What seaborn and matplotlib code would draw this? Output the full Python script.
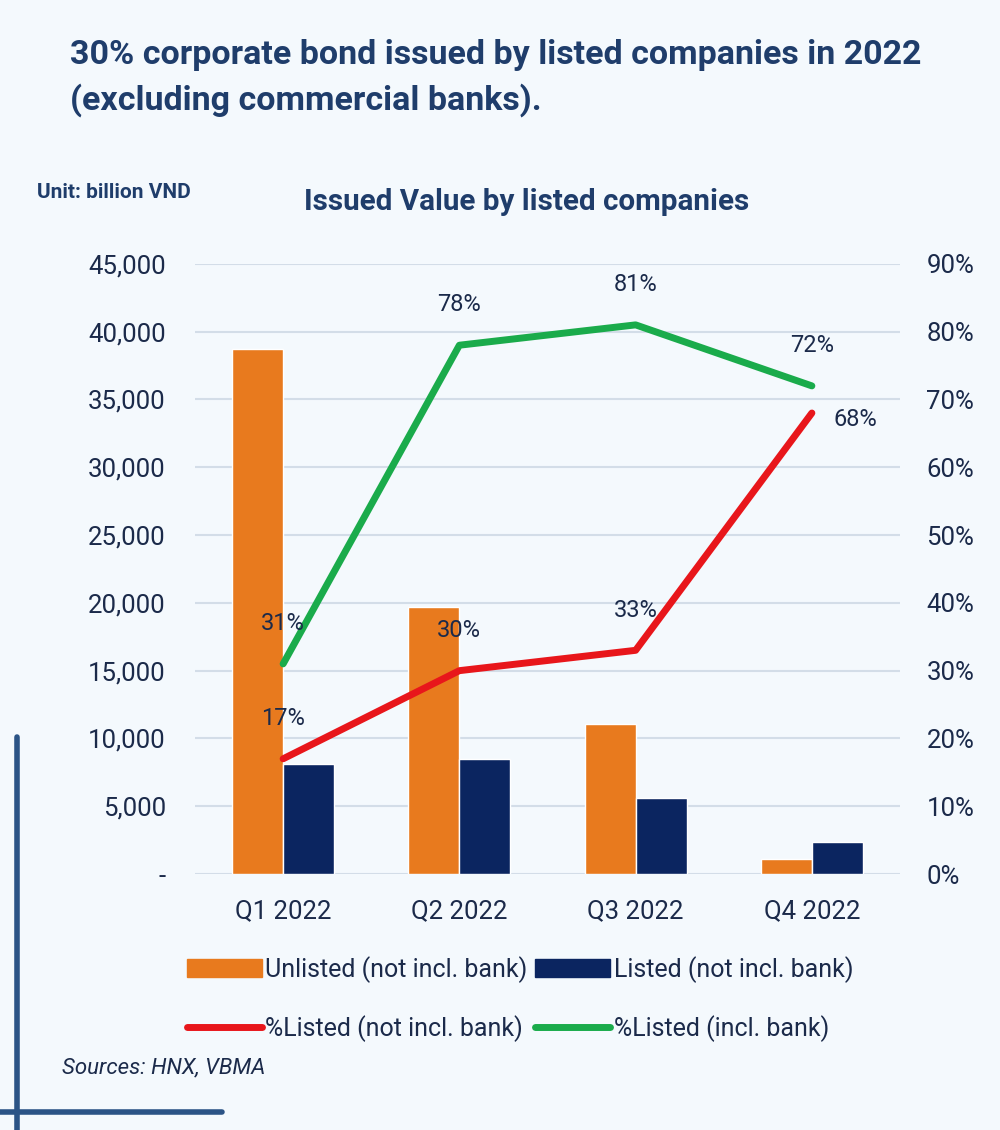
import pandas as pd
import matplotlib.pyplot as plt
import seaborn as sns
from matplotlib.patches import Patch
from matplotlib.lines import Line2D
from matplotlib.ticker import FuncFormatter, PercentFormatter

# data (billion VND and shares)
quarters = ["Q1 2022", "Q2 2022", "Q3 2022", "Q4 2022"]
unlisted = [38700, 19700, 11050, 1100]
listed = [8100, 8450, 5600, 2400]
pct_listed_excl = [0.17, 0.30, 0.33, 0.68]
pct_listed_incl = [0.31, 0.78, 0.81, 0.72]

bar_names = ["Unlisted (not incl. bank)", "Listed (not incl. bank)"]
line_names = ["%Listed (not incl. bank)", "%Listed (incl. bank)"]

bg = "#F4F9FD"
orange = "#E87A1E"
navy = "#0B2560"
red = "#E8161B"
green = "#1AAB4B"
txt = "#1B2A4A"
title_c = "#1F3D6B"

bars = pd.DataFrame({"quarter": quarters * 2,
                     "value": unlisted + listed,
                     "series": [bar_names[0]] * 4 + [bar_names[1]] * 4})
lines = pd.DataFrame({"quarter": quarters * 2,
                      "pct": pct_listed_excl + pct_listed_incl,
                      "series": [line_names[0]] * 4 + [line_names[1]] * 4})

sns.set_theme(style="white")
plt.rcParams['font.family'] = ['Roboto', 'DejaVu Sans']

fig = plt.figure(figsize=(10, 11.3), dpi=100, facecolor=bg)
ax = fig.add_axes([0.195, 0.2265, 0.705, 0.54])
ax.set_facecolor(bg)

sns.barplot(data=bars, x="quarter", y="value", hue="series", palette=[orange, navy],
            width=0.58, saturation=1, legend=False, ax=ax)
ax.set_ylim(0, 45000)
ax.set_yticks(range(0, 45001, 5000))
ax.yaxis.set_major_formatter(FuncFormatter(lambda v, p: "-" if v == 0 else f"{v:,.0f}"))
ax.yaxis.grid(True, color="#D3DDE8", lw=1.5)
ax.set_axisbelow(True)
ax.set_xlabel("")
ax.set_ylabel("")
ax.tick_params(axis="both", length=0, labelsize=18.5, labelcolor=txt)
ax.tick_params(axis="y", pad=21)
ax.tick_params(axis="x", pad=18)

ax2 = ax.twinx()
sns.pointplot(data=lines, x="quarter", y="pct", hue="series", palette=[red, green],
              markers="", linestyles="-", linewidth=5, errorbar=None, legend=False, ax=ax2)
ax2.set_ylim(0, 0.9)
ax2.set_yticks([i / 10 for i in range(10)])
ax2.yaxis.set_major_formatter(PercentFormatter(1.0, decimals=0))
ax2.set_ylabel("")
ax2.set_xlabel("")
ax2.tick_params(axis="y", length=0, labelsize=18.5, labelcolor=txt, pad=19)

for sp in list(ax.spines.values()) + list(ax2.spines.values()):
    sp.set_visible(False)

# data labels
for series in (pct_listed_excl, pct_listed_incl):
    for i, v in enumerate(series):
        off = (0, 29)
        if series is pct_listed_excl and i == len(series) - 1:
            off = (31, -5)
        ax2.annotate(f"{v:.0%}", (i, v), xytext=off, textcoords="offset points",
                     ha="center", va="center", fontsize=17, color=txt)

# texts
fig.text(0.07, 0.9513, "30% corporate bond issued by listed companies in 2022",
         ha="left", va="center", fontsize=24.5, fontweight="bold", color=title_c)
fig.text(0.07, 0.9115, "(excluding commercial banks).",
         ha="left", va="center", fontsize=24.5, fontweight="bold", color=title_c)
fig.text(0.527, 0.821, "Issued Value by listed companies", ha="center", va="center",
         fontsize=21.3, fontweight="bold", color=title_c)
fig.text(0.037, 0.830, "Unit: billion VND", ha="left", va="center",
         fontsize=15, fontweight="bold", color=title_c)
fig.text(0.062, 0.055, "Sources: HNX, VBMA", ha="left", va="center",
         fontsize=16, fontstyle="italic", color=txt)

# legend
handles = [Patch(color=orange, label=bar_names[0]),
           Line2D([], [], color=red, lw=5, label=line_names[0]),
           Patch(color=navy, label=bar_names[1]),
           Line2D([], [], color=green, lw=5, label=line_names[1])]
fig.legend(handles=handles, ncol=2, loc="center", bbox_to_anchor=(0.52, 0.116),
           frameon=False, fontsize=18, handlelength=3.0, handleheight=0.7,
           handletextpad=0.15, columnspacing=0.3, labelspacing=1.3, labelcolor=txt)

# decorative corner lines
deco = "#2B5486"
fig.add_artist(Line2D([0.017, 0.017], [0, 1 - 737 / 1130], transform=fig.transFigure, color=deco, lw=4))
fig.add_artist(Line2D([0, 0.222], [0.016, 0.016], transform=fig.transFigure, color=deco, lw=4))

fig.savefig("out.png", dpi=100, facecolor=bg)
